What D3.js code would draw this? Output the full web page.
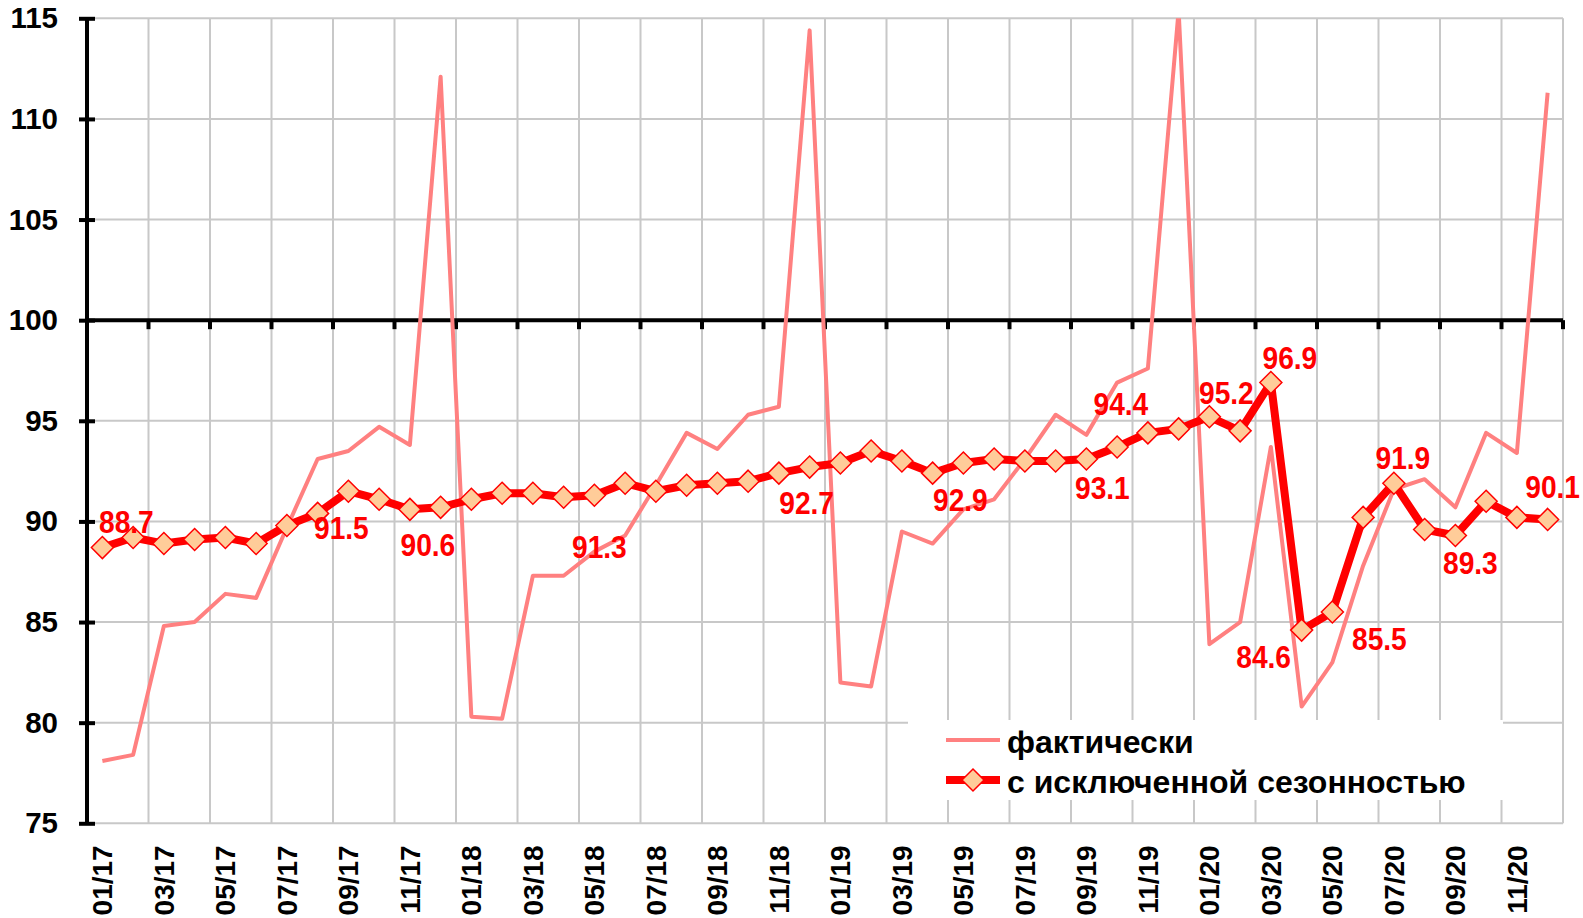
<!DOCTYPE html>
<html>
<head>
<meta charset="utf-8">
<script src="https://cdn.jsdelivr.net/npm/d3@7/dist/d3.min.js"></script>
<style>
  html, body { margin: 0; padding: 0; background: #fff; }
  svg { display: block; font-family: "Liberation Sans", Arial, sans-serif; }
</style>
</head>
<body>
<svg id="chart" width="1583" height="918"></svg>
<script>
// месяцы 01/17 .. 12/20
const months = [];
['17','18','19','20'].forEach(function (yy) {
  for (let m = 1; m <= 12; m++) months.push((m < 10 ? '0' + m : '' + m) + '/' + yy);
});

// фактически
const actual = [
  78.1, 78.4, 84.8, 85.0, 86.4, 86.2, 89.7, 93.1, 93.5, 94.7, 93.8, 112.1,
  80.3, 80.2, 87.3, 87.3, 88.5, 89.3, 91.8, 94.4, 93.6, 95.3, 95.7, 114.4,
  82.0, 81.8, 89.5, 88.9, 90.6, 91.1, 93.1, 95.3, 94.3, 96.9, 97.6, 115.4,
  83.9, 85.0, 93.7, 80.8, 83.0, 87.8, 91.6, 92.1, 90.7, 94.4, 93.4, 111.3
];

// с исключенной сезонностью
const seasAdj = [
  88.7, 89.2, 88.9, 89.1, 89.2, 88.9, 89.8, 90.4, 91.5, 91.1, 90.6, 90.7,
  91.1, 91.4, 91.4, 91.2, 91.3, 91.9, 91.5, 91.8, 91.9, 92.0, 92.4, 92.7,
  92.9, 93.5, 93.0, 92.4, 92.9, 93.1, 93.0, 93.0, 93.1, 93.7, 94.4, 94.6,
  95.2, 94.5, 96.9, 84.6, 85.5, 90.2, 91.9, 89.6, 89.3, 91.0, 90.2, 90.1
];

// подписанные точки
const labelIdx = [0, 8, 10, 16, 23, 28, 32, 34, 36, 38, 39, 40, 42, 44, 47];
const yTicks = [75, 80, 85, 90, 95, 100, 105, 110, 115];
const legendNames = ['фактически', 'с исключенной сезонностью'];

// смещения подписей (dx, dy к базовой линии) — раскладка
const labelOffset = {
  0: [24, -15], 8: [-7, 48], 10: [18, 47], 16: [5, 63], 23: [-3, 47],
  28: [-3, 48], 32: [16, 40], 34: [-27, -18], 36: [17, -13], 38: [19, -14],
  39: [-38, 38], 40: [47, 38], 42: [9, -14], 44: [15, 38], 47: [5, -21]
};

const L = 87, R = 1563, T = 18.3, B = 823.3;
const svg = d3.select('#chart');
svg.append('rect').attr('width', 1583).attr('height', 918).attr('fill', '#fff');

const x = d3.scaleBand().domain(months).range([L, R]).paddingInner(0).paddingOuter(0);
const y = d3.scaleLinear().domain([75, 115]).range([B, T]);
const cx = function (i) { return x(months[i]) + x.bandwidth() / 2; };

// сетка
const grid = svg.append('g').attr('class', 'grid').attr('stroke', '#c8c8c8').attr('stroke-width', 2);
grid.selectAll('line.h').data(yTicks).join('line').attr('class', 'h')
  .attr('x1', L).attr('x2', R).attr('y1', function (d) { return y(d); }).attr('y2', function (d) { return y(d); });
const vGrid = months.filter(function (m, i) { return i > 0 && i % 2 === 0; });
grid.selectAll('line.v').data(vGrid).join('line').attr('class', 'v')
  .attr('x1', function (d) { return x(d); }).attr('x2', function (d) { return x(d); })
  .attr('y1', T).attr('y2', B);
grid.append('line').attr('x1', R).attr('x2', R).attr('y1', T).attr('y2', B);

// легенда (белая подложка поверх сетки)
const lg = svg.append('g').attr('class', 'legend');
lg.append('rect').attr('x', 908).attr('y', 720).attr('width', 595).attr('height', 80).attr('fill', '#fff');

// линия 100 с засечками
svg.append('line').attr('x1', L).attr('x2', R).attr('y1', y(100)).attr('y2', y(100))
  .attr('stroke', '#000').attr('stroke-width', 4);
svg.append('g').selectAll('line').data(vGrid.concat([null])).join('line')
  .attr('x1', function (d) { return d ? x(d) : R; }).attr('x2', function (d) { return d ? x(d) : R; })
  .attr('y1', y(100)).attr('y2', y(100) + 9)
  .attr('stroke', '#000').attr('stroke-width', 4);

// ось Y
const yAxis = svg.append('g').attr('transform', 'translate(' + L + ',0)')
  .call(d3.axisLeft(y).tickValues(yTicks).tickSizeInner(8).tickSizeOuter(0).tickPadding(21));
yAxis.select('.domain').attr('stroke', '#000').attr('stroke-width', 4).attr('d', 'M0,' + T + 'V' + B);
yAxis.selectAll('.tick line').attr('x1', -8).attr('x2', 8).attr('stroke', '#000').attr('stroke-width', 4);
yAxis.selectAll('.tick text').attr('font-size', 29.5).attr('font-weight', 'bold').attr('fill', '#000')
  .attr('font-family', '"Liberation Sans", Arial, sans-serif');

// ось X (подписи через месяц)
const xAxis = svg.append('g').attr('transform', 'translate(0,' + B + ')')
  .call(d3.axisBottom(x).tickValues(months.filter(function (m, i) { return i % 2 === 0; })).tickSize(0));
xAxis.select('.domain').remove();
xAxis.selectAll('.tick text')
  .attr('transform', 'rotate(-90)').attr('text-anchor', 'end')
  .attr('x', -22).attr('y', 0).attr('dy', '0.36em')
  .attr('font-size', 28).attr('font-weight', 'bold').attr('fill', '#000')
  .attr('font-family', '"Liberation Sans", Arial, sans-serif');

// ряды
svg.append('clipPath').attr('id', 'plot-clip').append('rect')
  .attr('x', L).attr('y', T).attr('width', R - L + 20).attr('height', B - T);

const line = d3.line().x(function (d, i) { return cx(i); }).y(function (d) { return y(d); });

svg.append('path').datum(actual).attr('d', line).attr('clip-path', 'url(#plot-clip)')
  .attr('fill', 'none').attr('stroke', '#ff8080').attr('stroke-width', 4).attr('stroke-linejoin', 'round');

svg.append('path').datum(seasAdj).attr('d', line)
  .attr('fill', 'none').attr('stroke', '#ff0000').attr('stroke-width', 8).attr('stroke-linejoin', 'round');

const diamond = 'M0,-11 L11,0 L0,11 L-11,0 Z';
svg.append('g').selectAll('path').data(seasAdj).join('path')
  .attr('d', diamond)
  .attr('transform', function (d, i) { return 'translate(' + cx(i) + ',' + y(d) + ')'; })
  .attr('fill', '#ffcc99').attr('stroke', '#ff0000').attr('stroke-width', 1.5);

// подписи значений
svg.append('g').selectAll('text').data(labelIdx).join('text')
  .attr('transform', function (i) {
    const o = labelOffset[i];
    return 'translate(' + (cx(i) + o[0]) + ',' + (y(seasAdj[i]) + o[1]) + ') scale(0.88,1)';
  })
  .attr('text-anchor', 'middle').attr('font-size', 32).attr('font-weight', 'bold').attr('fill', '#ff0000')
  .text(function (i) { return seasAdj[i].toFixed(1); });

// легенда
const legY = [740, 780];
lg.append('line').attr('x1', 946).attr('x2', 1000).attr('y1', legY[0]).attr('y2', legY[0])
  .attr('stroke', '#ff8080').attr('stroke-width', 4);
lg.append('line').attr('x1', 946).attr('x2', 1000).attr('y1', legY[1]).attr('y2', legY[1])
  .attr('stroke', '#ff0000').attr('stroke-width', 8);
lg.append('path').attr('d', diamond).attr('transform', 'translate(973,' + legY[1] + ')')
  .attr('fill', '#ffcc99').attr('stroke', '#ff0000').attr('stroke-width', 1.5);
lg.selectAll('text').data(legendNames).join('text')
  .attr('x', 1007).attr('y', function (d, i) { return legY[i] + 13; })
  .attr('font-size', 32).attr('font-weight', 'bold').attr('fill', '#000')
  .text(function (d) { return d; });
</script>
</body>
</html>
